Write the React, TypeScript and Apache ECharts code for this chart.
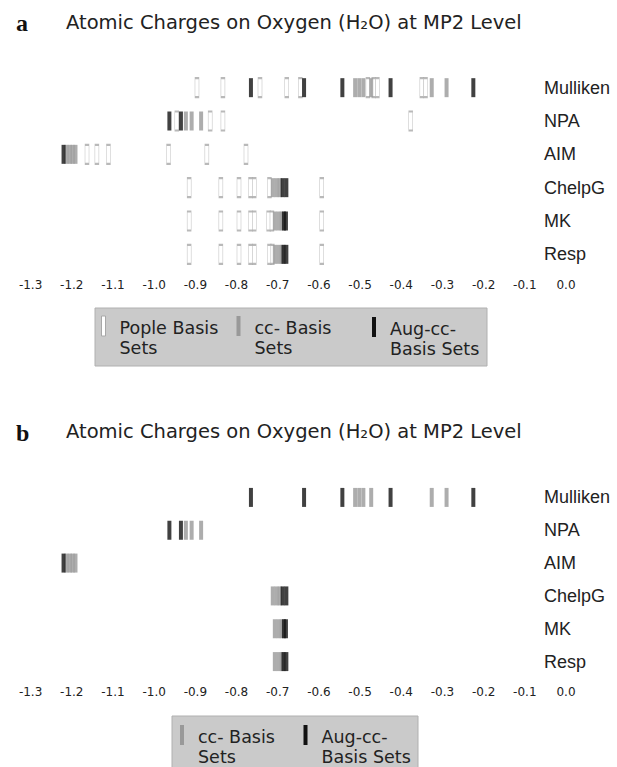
import React, { useEffect, useRef } from 'react';
import * as echarts from 'echarts';

const rows = ['Mulliken', 'NPA', 'AIM', 'ChelpG', 'MK', 'Resp'];
const titleText = 'Atomic Charges on Oxygen (H\u2082O) at MP2 Level';
const legendA = ['Pople Basis\nSets', 'cc- Basis\nSets', 'Aug-cc-\nBasis Sets'];
const legendB = ['cc- Basis\nSets', 'Aug-cc-\nBasis Sets'];

// Pople basis sets (panel a only)
const popleMulliken = [-0.896, -0.833, -0.743, -0.678, -0.645, -0.481, -0.467, -0.458, -0.350, -0.341];
const popleNPA = [-0.945, -0.864, -0.833, -0.377];
const popleAIM = [-1.163, -1.139, -1.111, -0.965, -0.872, -0.777];
const popleChelpG = [-0.915, -0.838, -0.794, -0.766, -0.757, -0.720, -0.593];
const popleMK = [-0.915, -0.838, -0.794, -0.766, -0.757, -0.722, -0.714, -0.593];
const popleResp = [-0.915, -0.838, -0.794, -0.766, -0.757, -0.720, -0.713, -0.593];

// cc- basis sets
const ccMulliken = [-0.512, -0.502, -0.492, -0.473, -0.326, -0.290];
const ccNPA = [-0.923, -0.909, -0.886];
const ccAIM = [-1.213, -1.205, -1.198, -1.191];
const ccChelpG = [-0.712, -0.703, -0.695];
const ccMK = [-0.707, -0.698, -0.690];
const ccResp = [-0.707, -0.698, -0.690];

// Aug-cc- basis sets
const augMulliken = [-0.765, -0.636, -0.543, -0.426, -0.225];
const augNPA = [-0.963, -0.935];
const augAIM = [-1.220];
const augChelpG = [-0.688, -0.679];
const augMK = [-0.685, -0.680];
const augResp = [-0.686, -0.679];

const popleSets = [popleMulliken, popleNPA, popleAIM, popleChelpG, popleMK, popleResp];
const ccSets = [ccMulliken, ccNPA, ccAIM, ccChelpG, ccMK, ccResp];
const augSets = [augMulliken, augNPA, augAIM, augChelpG, augMK, augResp];

const POPLE_FILL = '#ffffff';
const POPLE_BORDER = '#a8a8a8';
const CC_FILL = '#999999';
const AUG_FILL = '#111111';
const FONT = 'DejaVu Sans';
const LABEL_FONT = 'Liberation Sans';

function toPoints(sets: number[][]) {
  const out: [number, string][] = [];
  sets.forEach((vals, i) => vals.forEach((v) => out.push([v, rows[i]])));
  return out;
}

function makeSeries(name: string, sets: number[][], idx: number, style: any) {
  return {
    type: 'scatter',
    name,
    xAxisIndex: idx,
    yAxisIndex: idx,
    symbol: 'rect',
    symbolSize: [4, 19],
    data: toPoints(sets),
    itemStyle: style,
    emphasis: { disabled: true },
    silent: true,
  };
}

function legendItem(x: number, y: number, label: string, fill: string, stroke: string | null) {
  return [
    {
      type: 'rect',
      shape: { x, y, width: 4, height: 20 },
      style: { fill, stroke: stroke || fill, lineWidth: stroke ? 1 : 0 },
    },
    {
      type: 'text',
      x: x + 18,
      y: y + 2,
      style: {
        text: label,
        font: `17.5px "${FONT}"`,
        fill: '#222',
        lineHeight: 20,
        textVerticalAlign: 'top',
      },
    },
  ];
}

function xAxis(gridIndex: number) {
  return {
    type: 'value',
    gridIndex,
    min: -1.3,
    max: 0,
    interval: 0.1,
    axisLine: { lineStyle: { color: '#a0a0a0', width: 1 } },
    axisTick: { inside: true, length: 5, lineStyle: { color: '#a0a0a0' } },
    splitLine: { show: false },
    axisLabel: {
      color: '#222',
      fontFamily: FONT,
      fontSize: 12,
      margin: 8,
      formatter: (v: number) => v.toFixed(1),
    },
  };
}

function yAxis(gridIndex: number) {
  return {
    type: 'category',
    gridIndex,
    data: rows,
    inverse: true,
    position: 'right',
    axisLine: { show: false },
    axisTick: { show: false },
    splitLine: { show: false },
    axisLabel: { color: '#222', fontFamily: LABEL_FONT, fontSize: 18, margin: -22, align: 'left' },
  };
}

export default function App() {
  const ref = useRef<HTMLDivElement>(null);
  useEffect(() => {
    if (!ref.current) return;
    const chart = echarts.init(ref.current, undefined, { renderer: 'svg' });
    const poplStyle = { color: POPLE_FILL, borderColor: POPLE_BORDER, borderWidth: 1 };
    const ccStyle = { color: CC_FILL };
    const augStyle = { color: AUG_FILL };
    const letterStyle = { fontFamily: 'Liberation Serif', fontWeight: 'bold', fontSize: 24, color: '#111' };
    const headStyle = { fontFamily: FONT, fontWeight: 'normal', fontSize: 19.5, color: '#222' };
    chart.setOption({
      animation: false,
      backgroundColor: '#ffffff',
      title: [
        { text: 'a', left: 11, top: 6, textStyle: letterStyle },
        { text: titleText, left: 61, top: 7, textStyle: headStyle },
        { text: 'b', left: 11, top: 416, textStyle: letterStyle },
        { text: titleText, left: 61, top: 416, textStyle: headStyle },
      ],
      grid: [
        { left: 30.6, width: 535.4, top: 71, height: 200 },
        { left: 30.6, width: 535.4, top: 481, height: 197 },
      ],
      xAxis: [xAxis(0), xAxis(1)],
      yAxis: [yAxis(0), yAxis(1)],
      series: [
        makeSeries('Pople', popleSets, 0, poplStyle),
        makeSeries('cc', ccSets, 0, ccStyle),
        makeSeries('Aug', augSets, 0, augStyle),
        makeSeries('cc-b', ccSets, 1, ccStyle),
        makeSeries('Aug-b', augSets, 1, augStyle),
      ],
      graphic: [
        {
          type: 'group',
          children: [
            { type: 'rect', shape: { x: 95, y: 308, width: 392, height: 58 }, style: { fill: '#cacaca', stroke: '#b0b0b0', lineWidth: 1 } },
            ...legendItem(101.5, 316, legendA[0], POPLE_FILL, POPLE_BORDER),
            ...legendItem(236.5, 316, legendA[1], CC_FILL, null),
            ...legendItem(372, 317, legendA[2], AUG_FILL, null),
          ],
        },
        {
          type: 'group',
          children: [
            { type: 'rect', shape: { x: 172, y: 716, width: 246, height: 58 }, style: { fill: '#cacaca', stroke: '#b0b0b0', lineWidth: 1 } },
            ...legendItem(180, 725, legendB[0], CC_FILL, null),
            ...legendItem(303.5, 725, legendB[1], AUG_FILL, null),
          ],
        },
      ],
    });
    return () => chart.dispose();
  }, []);
  return <div ref={ref} style={{ position: 'fixed', left: 0, top: 0, width: 617, height: 767 }} />;
}
